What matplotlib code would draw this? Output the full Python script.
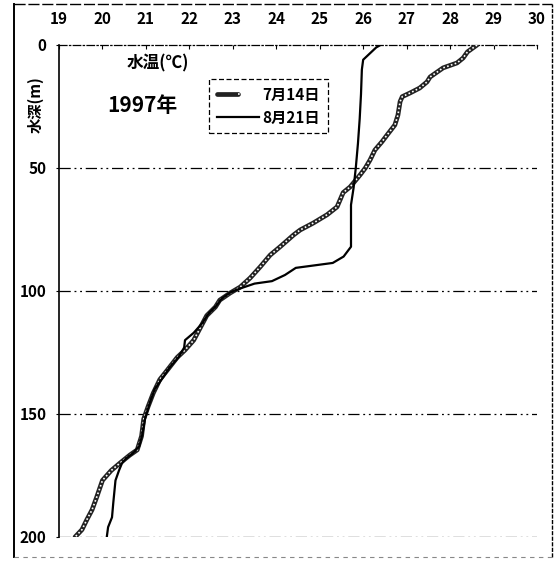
"""
Water temperature profiles (1997): 14 July vs 21 August.
Depth on an inverted y axis, temperature along the top.
"""
import matplotlib
matplotlib.use("Agg")
import matplotlib.pyplot as plt
from matplotlib.lines import Line2D
from matplotlib.legend_handler import HandlerTuple

plt.rcParams["font.family"] = ["Noto Sans CJK JP", "DejaVu Sans"]

# ------------------------------------------------------------
# Data: temperature (deg C) and depth (m) read along each profile
# ------------------------------------------------------------
jul14_temp = [28.62, 28.4, 28.3, 28.16, 27.84, 27.54, 27.47, 27.3, 27.08, 26.9,
              26.85, 26.8, 26.73, 26.55, 26.43, 26.27, 26.16, 26.05, 25.93, 25.7,
              25.54, 25.4, 25.17, 24.85, 24.55, 24.4, 24.09, 23.86, 23.63, 23.4,
              23.17, 22.94, 22.7, 22.6, 22.4, 22.25, 22.1, 21.9, 21.72, 21.5,
              21.32, 21.17, 21.05, 20.95, 20.9, 20.8, 20.63, 20.4, 20.2, 20.0,
              19.87, 19.76, 19.64, 19.53, 19.37]
jul14_depth = [0, 2.8, 5.3, 7.3, 9.3, 13, 15, 17.5, 19.5, 21,
               23, 28.5, 32.5, 36.6, 39.4, 42.7, 46.7, 50, 52.8, 57.7,
               60, 65.8, 69, 72.4, 75.2, 77.2, 82, 85.4, 90.2, 94.7,
               98.4, 100.8, 103.7, 106.5, 110, 115, 120, 124, 127, 132,
               136, 141.5, 147, 152, 159, 164.6, 166.7, 170, 173, 177,
               183.7, 189, 193, 197, 200]

aug21_temp = [26.4, 26.3, 26.0, 25.97, 25.95, 25.92, 25.88, 25.83, 25.78, 25.72,
              25.72, 25.72, 25.55, 25.3, 24.45, 24.2, 23.9, 23.5, 23.2, 22.95,
              22.75, 22.62, 22.45, 22.3, 22.1, 21.9, 21.88, 21.75, 21.55, 21.4,
              21.2, 21.08, 20.98, 20.92, 20.85, 20.7, 20.55, 20.45, 20.38, 20.3,
              20.25, 20.22, 20.13, 20.1]
aug21_depth = [0, 1, 6, 10, 20, 30, 40, 50, 58, 65,
               75, 82, 86, 88.6, 90.6, 93.5, 96, 97, 98.8, 100.5,
               103, 106, 109, 113, 117, 120, 123, 127, 131, 135,
               140, 146, 152, 158, 163, 166, 168, 170, 173, 177,
               186, 192, 196, 200]

temp_ticks = list(range(19, 31))
depth_ticks = [0, 50, 100, 150, 200]
label_jul = "7月14日"
label_aug = "8月21日"

# ------------------------------------------------------------
# Figure and axes
# ------------------------------------------------------------
fig = plt.figure(figsize=(5.56, 5.63), dpi=100)
ax = fig.add_axes([0.1061, 0.0462, 0.8597, 0.8739])

ax.set_xlim(19, 30)
ax.set_ylim(200, 0)

# grid lines at depth marks (dash-dot-dot)
dash_dot = (0, (9, 3, 1.5, 3, 1.5, 3))
for d in depth_ticks[1:]:
    ax.axhline(d, color="black", lw=0.9, ls=dash_dot, zorder=1)

# 14 July: thick dark line with a light dotted core
jul_outer, = ax.plot(jul14_temp, jul14_depth, color="#222222", lw=3.4,
                     solid_capstyle="round", zorder=3)
jul_inner, = ax.plot(jul14_temp, jul14_depth, color="white", lw=1.2,
                     ls=(0, (1, 1.4)), zorder=4)

# 21 August: plain solid line
aug_line, = ax.plot(aug21_temp, aug21_depth, color="black", lw=1.6, zorder=5)

# axis styling
ax.xaxis.tick_top()
ax.set_xticks(temp_ticks)
ax.set_yticks(depth_ticks)
ax.tick_params(axis="x", direction="in", length=3, pad=13, labelsize=11)
ax.tick_params(axis="y", direction="out", length=2, pad=7, labelsize=11)
for lab in ax.get_xticklabels() + ax.get_yticklabels():
    lab.set_fontweight("bold")

ax.spines["right"].set_visible(False)
ax.spines["bottom"].set_visible(False)
ax.spines["top"].set_linestyle((0, (6, 2, 1, 2)))
ax.spines["top"].set_linewidth(0.9)
ax.spines["left"].set_linewidth(1.2)

# titles inside the axes
fig.text(0.284, 0.888, "水温(℃)", fontsize=12, fontweight="bold",
         ha="center", va="center")
fig.text(0.256, 0.813, "1997年", fontsize=15, fontweight="bold",
         ha="center", va="center")
fig.text(0.064, 0.815, "水深(m)", fontsize=11, fontweight="bold",
         rotation=90, ha="center", va="center")

# legend
leg = ax.legend([(jul_outer, jul_inner), aug_line], [label_jul, label_aug],
                handler_map={tuple: HandlerTuple(ndivide=None, pad=0)},
                loc="upper left", bbox_to_anchor=(0.298, 0.946),
                fontsize=11, handlelength=2.8, handletextpad=0.2,
                labelspacing=0.45, borderpad=0.5, fancybox=False,
                framealpha=1, edgecolor="black")
leg.get_frame().set_linewidth(0.9)
leg.get_frame().set_linestyle((0, (4, 2)))
for t in leg.get_texts():
    t.set_fontweight("bold")

# outer frame around the whole chart
x0, x1 = 14 / 556, 552 / 556
y0, y1 = 1 - 557 / 563, 1 - 4 / 563
fig.add_artist(Line2D([x0, x0], [y0, y1], color="black", lw=1.4))
fig.add_artist(Line2D([x0, x1], [y1, y1], color="black", lw=1.0,
                      ls=(0, (8, 2))))
fig.add_artist(Line2D([x1, x1], [y0, y1], color="black", lw=1.0,
                      ls=(0, (3, 1))))
fig.add_artist(Line2D([x0, x1], [y0, y0], color="#888888", lw=0.8,
                      ls=(0, (4, 4))))

fig.savefig("out.png", dpi=100)
